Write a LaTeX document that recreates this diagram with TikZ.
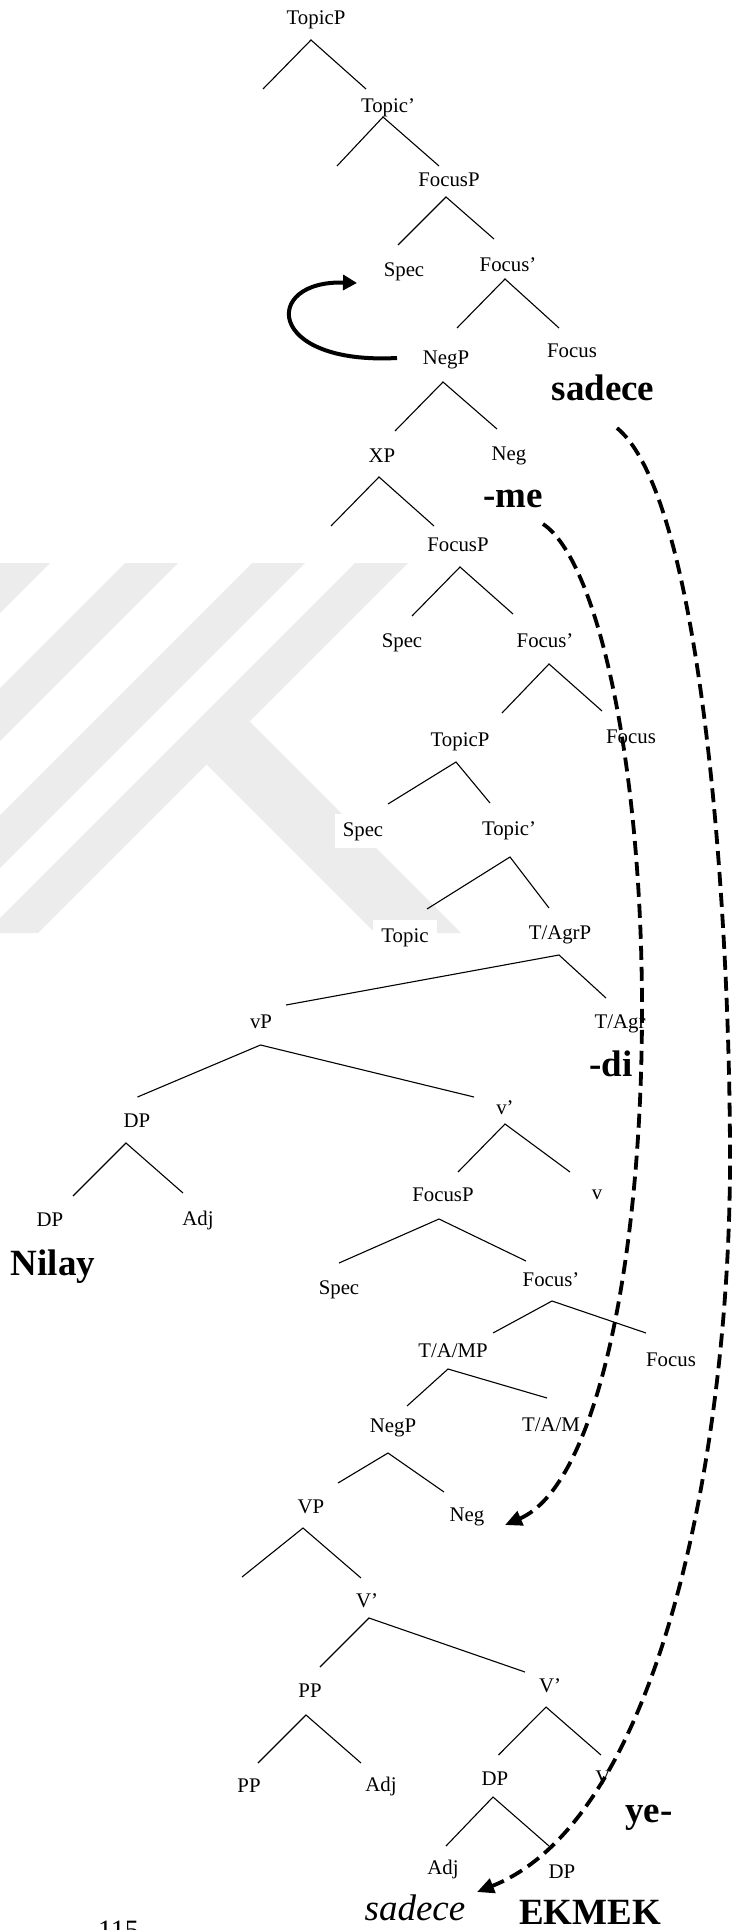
\documentclass[tikz,border=0pt]{standalone}
\usepackage{fontspec}
\setmainfont{Liberation Serif}
\usetikzlibrary{arrows.meta}
\definecolor{wmark}{RGB}{236,236,236}
\begin{document}
\begin{tikzpicture}[x=0.5pt,y=-0.5pt,
  lbl/.style={anchor=base, inner sep=0pt, font=\fontsize{10.4}{12}\selectfont},
  wlbl/.style={lbl, fill=white, inner sep=4pt},
  big/.style={anchor=base, inner sep=0pt, font=\fontsize{18.5}{22}\selectfont\bfseries},
  ital/.style={anchor=base, inner sep=0pt, font=\fontsize{18.5}{22}\selectfont\itshape},
  pnum/.style={anchor=base, inner sep=0pt, font=\fontsize{14}{16}\selectfont},
  br/.style={line width=0.55pt},
  wm/.style={fill=wmark, draw=none},
  mv/.style={line width=1.9pt, dash pattern=on 7pt off 3.5pt, -{Triangle[length=8.5pt,width=7.5pt]}},
  solidmv/.style={line width=2pt, -{Triangle[length=7pt,width=7.5pt]}}]
\useasboundingbox (0,0) rectangle (736,1930);

% ---------- faint watermark ----------
\begin{scope}
\clip (0,563) rectangle (560,933);
\fill[wm] (-2,563) -- (50,563) -- (-320,933) -- (-372,933) -- cycle;
\fill[wm] (125,563) -- (178,563) -- (-192,933) -- (-245,933) -- cycle;
\fill[wm] (252,563) -- (305,563) -- (-65,933) -- (-118,933) -- cycle;
\fill[wm] (355,563) -- (408,563) -- (38,933) -- (-15,933) -- cycle;
\fill[wm] (249.5,721.5) -- (461,933) -- (375,933) -- (206.5,764.5) -- cycle;
\end{scope}

% ---------- labels ----------
\node[lbl] (topicp1) at (316,25) {TopicP};
\node[lbl] (topicb1) at (388,113) {Topic’};
\node[lbl] (focusp1) at (449,187) {FocusP};
\node[lbl] (spec1) at (404,277) {Spec};
\node[lbl] (focusb1) at (508,272) {Focus’};
\node[lbl] (negp1) at (446,365) {NegP};
\node[lbl] (focus1) at (572,358) {Focus};
\node[big] (sadeceB) at (603,401) {sadece};
\node[lbl] (xp) at (382,463) {XP};
\node[lbl] (neg1) at (509,461) {Neg};
\node[big] (me) at (513,508) {-me};
\node[wlbl] (focusp2) at (458,552) {FocusP};
\node[wlbl] (spec2) at (402,647) {Spec};
\node[lbl] (focusb2) at (545,647) {Focus’};
\node[wlbl] (topicp2) at (460,746) {TopicP};
\node[lbl] (focus2) at (631,743) {Focus};
\node[wlbl] (spec3) at (363,836) {Spec};
\node[wlbl] (topicb3) at (509,835) {Topic’};
\node[wlbl] (topic) at (405,942) {Topic};
\node[wlbl] (tagrp) at (560,939) {T/AgrP};
\node[lbl] (vp) at (261,1028) {vP};
\node[lbl] (tagr) at (620,1028) {T/Agr};
\node[big] (di) at (611,1076) {-di};
\node[lbl] (dp1) at (137,1127) {DP};
\node[lbl] (vbar) at (505,1114) {v’};
\node[lbl] (focusp3) at (443,1201) {FocusP};
\node[lbl] (vhead) at (597,1199) {v};
\node[lbl] (dp2) at (50,1226) {DP};
\node[lbl] (adj1) at (198,1225) {Adj};
\node[big] (nilay) at (53,1275) {Nilay};
\node[lbl] (spec4) at (339,1294) {Spec};
\node[lbl] (focusb4) at (551,1286) {Focus’};
\node[lbl] (tamp) at (453,1357) {T/A/MP};
\node[lbl] (focus4) at (671,1366) {Focus};
\node[lbl] (negp2) at (393,1432) {NegP};
\node[lbl] (tam) at (551,1431) {T/A/M};
\node[lbl] (VP) at (311,1513) {VP};
\node[lbl] (neg2) at (467,1521) {Neg};
\node[lbl] (Vbar1) at (367,1607) {V’};
\node[lbl] (pp1) at (310,1697) {PP};
\node[lbl] (Vbar2) at (550,1692) {V’};
\node[lbl] (pp2) at (249,1792) {PP};
\node[lbl] (adj2) at (381,1791) {Adj};
\node[lbl] (dp3) at (495,1785) {DP};
\node[lbl] (Vhead) at (603,1784) {V};
\node[big] (ye) at (649,1822) {ye-};
\node[lbl] (adj3) at (443,1874) {Adj};
\node[lbl] (dp4) at (562,1878) {DP};
\node[ital] (sadeceI) at (415,1920) {sadece};
\node[big] (ekmek) at (590,1924) {EKMEK};
\node[pnum] (page) at (118.5,1939) {115};

% ---------- tree branches ----------
\coordinate (a1) at (311,40);   \coordinate (l1) at (263,89);   \coordinate (r1) at (366,89);
\coordinate (a2) at (383,117);  \coordinate (l2) at (337,166);  \coordinate (r2) at (439,166);
\coordinate (a3) at (446,197);  \coordinate (l3) at (398,245);  \coordinate (r3) at (494,239);
\coordinate (a4) at (505,279);  \coordinate (l4) at (457,328);  \coordinate (r4) at (559,328);
\coordinate (a5) at (443,382);  \coordinate (l5) at (395,431);  \coordinate (r5) at (497,429);
\coordinate (a6) at (379,477);  \coordinate (l6) at (331,526);  \coordinate (r6) at (434,526);
\coordinate (a7) at (460,567);  \coordinate (l7) at (412,616);  \coordinate (r7) at (513,614);
\coordinate (a8) at (549,664);  \coordinate (l8) at (502,713);  \coordinate (r8) at (602,711);
\coordinate (a9) at (456,762);  \coordinate (l9) at (388,804);  \coordinate (r9) at (490,803);
\coordinate (a10) at (510,857); \coordinate (l10) at (427,909); \coordinate (r10) at (549,908);
\coordinate (a11) at (559,955); \coordinate (l11) at (286,1005); \coordinate (r11) at (606,998);
\coordinate (a12) at (260.5,1045); \coordinate (l12) at (137.5,1097); \coordinate (r12) at (474,1097);
\coordinate (a13) at (505,1124); \coordinate (l13) at (458,1172); \coordinate (r13) at (570,1172);
\coordinate (a14) at (126,1143); \coordinate (l14) at (73,1196); \coordinate (r14) at (183,1193);
\coordinate (a15) at (439,1219); \coordinate (l15) at (339,1263); \coordinate (r15) at (526,1261);
\coordinate (a16) at (552,1301); \coordinate (l16) at (493,1333); \coordinate (r16) at (646,1333);
\coordinate (a17) at (448,1369); \coordinate (l17) at (407,1406); \coordinate (r17) at (547,1398);
\coordinate (a18) at (388,1453); \coordinate (l18) at (338,1483); \coordinate (r18) at (444,1492);
\coordinate (a19) at (303,1528); \coordinate (l19) at (242,1577); \coordinate (r19) at (361,1578);
\coordinate (a20) at (369,1618); \coordinate (l20) at (320,1667); \coordinate (r20) at (525,1672);
\coordinate (a21) at (306,1715); \coordinate (l21) at (258,1763); \coordinate (r21) at (361,1763);
\coordinate (a22) at (546,1707); \coordinate (l22) at (498.5,1755); \coordinate (r22) at (601,1755);
\coordinate (a23) at (493,1797); \coordinate (l23) at (446,1846); \coordinate (r23) at (549,1846);
\foreach \i in {1,...,23} {\draw[br] (l\i) -- (a\i) -- (r\i);}

% ---------- movement arrows ----------
\coordinate (mvS) at (397,358);
\coordinate (mvT) at (357,283);
\draw[solidmv] (mvS) .. controls (265,365) and (262,280) .. (mvT);

\coordinate (d1s) at (543,524);
\coordinate (d1m) at (642,1010);
\coordinate (d1t) at (505,1525);
\draw[mv] (d1s) .. controls (597,560) and (642,760) .. (d1m)
               .. controls (642,1260) and (597,1485) .. (d1t);

\coordinate (d2s) at (617,428);
\coordinate (d2m) at (730,1160);
\coordinate (d2t) at (477,1892);
\draw[mv] (d2s) .. controls (702,498) and (730,910) .. (d2m)
               .. controls (730,1440) and (663,1818) .. (d2t);
\end{tikzpicture}
\end{document}
